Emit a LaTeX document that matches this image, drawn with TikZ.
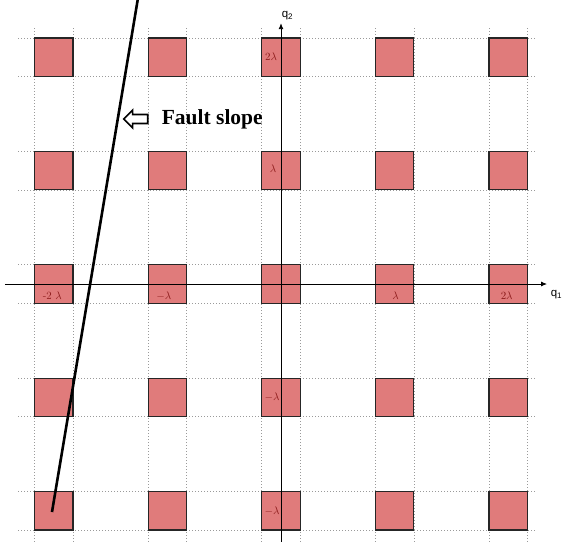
\documentclass[tikz,border=0pt]{standalone}
\usepackage{fontspec}
\newfontfamily\slopefont{Liberation Serif}
\newfontfamily\axisfont{Liberation Sans}
\usetikzlibrary{positioning,arrows.meta,shapes.arrows,backgrounds}
\definecolor{cellfill}{HTML}{E07B7B}
\definecolor{cellframe}{HTML}{262626}
\definecolor{lamtext}{HTML}{8B1A1A}
\definecolor{gridgray}{HTML}{9A9A9A}

\begin{document}
\begin{tikzpicture}[x=113.6pt, y=113.4pt,
  cell/.style={draw=cellframe, line width=1.2pt, fill=cellfill, minimum size=38.5pt,
               inner sep=0pt, outer sep=0pt},
  lam/.style={text=lamtext, font=\fontsize{11}{13}\selectfont, inner sep=1pt},
  gridln/.style={draw=gridgray, line width=0.6pt, dash pattern=on 1.2pt off 1.8pt},
  axis/.style={line width=0.9pt, -{Latex[length=6pt,width=5pt]}},
  axlab/.style={font=\axisfont\fontsize{11.5}{13}\selectfont, inner sep=1pt},
  fault/.style={line width=2.6pt},
  hollow/.style={single arrow, draw, line width=1.7pt, fill=white, shape border rotate=180,
                 minimum height=24pt, inner sep=3.6pt, single arrow head extend=4.4pt},
  slopetxt/.style={font=\slopefont\bfseries\fontsize{21.5}{25}\selectfont, inner sep=2pt},
  ]
  \useasboundingbox (-2.4736,-2.2663) rectangle (2.4736,2.5044);

  % lattice of cells, row 1 on top
  \node[cell] (r1c1) at (-2, 2) {};
  \node[cell] (r1c2) at (-1, 2) {};
  \node[cell] (r1c3) at ( 0, 2) {};
  \node[cell] (r1c4) at ( 1, 2) {};
  \node[cell] (r1c5) at ( 2, 2) {};
  \node[cell] (r2c1) at (-2, 1) {};
  \node[cell] (r2c2) at (-1, 1) {};
  \node[cell] (r2c3) at ( 0, 1) {};
  \node[cell] (r2c4) at ( 1, 1) {};
  \node[cell] (r2c5) at ( 2, 1) {};
  \node[cell] (r3c1) at (-2, 0) {};
  \node[cell] (r3c2) at (-1, 0) {};
  \node[cell] (r3c3) at ( 0, 0) {};
  \node[cell] (r3c4) at ( 1, 0) {};
  \node[cell] (r3c5) at ( 2, 0) {};
  \node[cell] (r4c1) at (-2,-1) {};
  \node[cell] (r4c2) at (-1,-1) {};
  \node[cell] (r4c3) at ( 0,-1) {};
  \node[cell] (r4c4) at ( 1,-1) {};
  \node[cell] (r4c5) at ( 2,-1) {};
  \node[cell] (r5c1) at (-2,-2) {};
  \node[cell] (r5c2) at (-1,-2) {};
  \node[cell] (r5c3) at ( 0,-2) {};
  \node[cell] (r5c4) at ( 1,-2) {};
  \node[cell] (r5c5) at ( 2,-2) {};

  % dotted guide lines along the cell edges
  \coordinate (gtop) at (0,2.257);
  \coordinate (gbot) at (0,-2.28);
  \coordinate (gleft) at (-2.315,0);
  \coordinate (gright) at (2.236,0);
  \begin{scope}[on background layer]
    \foreach \cl in {1,...,5} {
      \draw[gridln] (r1c\cl.north west |- gtop) -- (r1c\cl.north west |- gbot);
      \draw[gridln] (r1c\cl.north east |- gtop) -- (r1c\cl.north east |- gbot);
    }
    \foreach \rw in {1,...,5} {
      \draw[gridln] (r\rw c1.north west -| gleft) -- (r\rw c1.north west -| gright);
      \draw[gridln] (r\rw c1.south west -| gleft) -- (r\rw c1.south west -| gright);
    }
  \end{scope}

  % axes
  \coordinate (xl) at (-2.43,0);
  \coordinate (xr) at (2.342,0);
  \coordinate (yb) at (0,-2.28);
  \coordinate (yt) at (0,2.30);
  \draw[axis] (xl) -- (xr);
  \draw[axis] (yb) -- (yt);
  \node[axlab] (q1) at (2.425,-0.097) {q\textsubscript{1}};
  \node[axlab] (q2) at (0.057,2.363) {q\textsubscript{2}};

  % lattice labels
  \node[lam] (lam13) at ([xshift=-10pt,yshift=1pt]r1c3.center) {$2\lambda$};
  \node[lam] (lam23) at ([xshift=-8pt,yshift=2pt]r2c3.center) {$\lambda$};
  \node[lam] (lam31) at ([xshift=-1.5pt,yshift=-12pt]r3c1.center) {-2 $\lambda$};
  \node[lam] (lam32) at ([xshift=-3.5pt,yshift=-12pt]r3c2.center) {$-\lambda$};
  \node[lam] (lam34) at ([xshift=1pt,yshift=-12pt]r3c4.center) {$\lambda$};
  \node[lam] (lam35) at ([xshift=-1.5pt,yshift=-12pt]r3c5.center) {$2\lambda$};
  \node[lam] (lam43) at ([xshift=-9pt]r4c3.center) {$-\lambda$};
  \node[lam] (lam53) at ([xshift=-9pt]r5c3.center) {$-\lambda$};

  % fault
  \coordinate (fbot) at (-2.016,-2.011);
  \coordinate (ftop) at (-1.259,2.52);
  \draw[fault] (fbot) -- (ftop);
  \node[hollow] (slopearr) at (-1.259,1.455) {};
  \node[slopetxt, right=11pt of slopearr] (slopelbl) {Fault slope};
\end{tikzpicture}
\end{document}
